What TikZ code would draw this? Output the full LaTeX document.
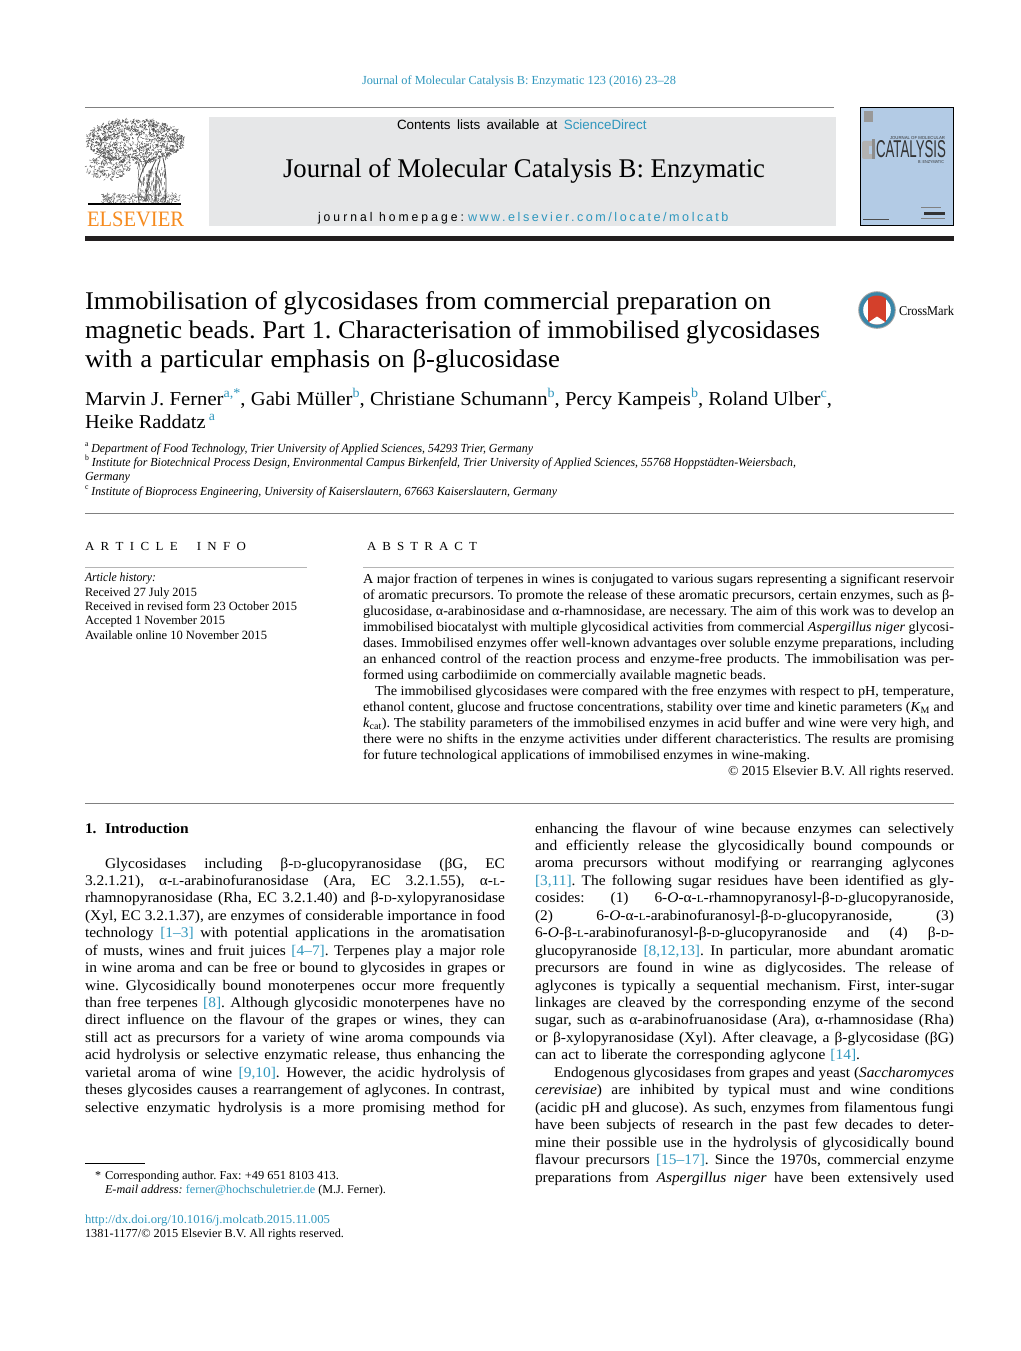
\documentclass[tikz,border=0pt]{standalone}
\usepackage{fontspec}
\usepackage{graphicx}
\setmainfont[FakeStretch=1.05]{Liberation Serif}
\newfontfamily\sansf{Liberation Sans}
\newfontfamily\sansls[LetterSpace=20]{Liberation Sans}
\newfontfamily\sanslsb[LetterSpace=25]{Liberation Sans}
\definecolor{linkc}{HTML}{2F97BE}
\definecolor{rulec}{HTML}{808080}
\definecolor{lightrule}{HTML}{B5B5B5}
\definecolor{boxgray}{HTML}{E6E7E8}
\definecolor{barc}{HTML}{231F20}
\definecolor{coverblue}{HTML}{B3CBE5}
\definecolor{elsorange}{HTML}{F68B1F}
\definecolor{cmred}{HTML}{D4402B}
\definecolor{cmring}{HTML}{3A86A8}
\newcounter{ln}
\newsavebox\linebox
\def\curfs{14}
% a line of text set to an exact width: word spaces stretch, or the line is narrowed if too long
\newcommand\fitline[2]{\sbox\linebox{#2}\ifdim\wd\linebox>#1pt\resizebox{#1pt}{\height}{\usebox\linebox}\else\makebox[#1pt][s]{#2}\fi}
\newcommand\J[4]{\stepcounter{ln}\node[txt] (t\arabic{ln}) at (#1,#2) {\frenchspacing\fontsize{\curfs}{\curfs}\selectfont\fitline{#3}{#4}};}
\newcommand\sD{\scalebox{.72}{D}}
\newcommand\sL{\scalebox{.72}{L}}
\newcommand\lk[1]{\textcolor{linkc}{#1}}
\newcommand\au[1]{\textcolor{linkc}{\raisebox{.4em}{\scalebox{.68}{#1}}}}
\newcommand\af[1]{\raisebox{.42em}{\scalebox{.65}{#1}}}
\tikzset{txt/.style={anchor=base west,inner sep=0pt,outer sep=0pt}}
\begin{document}
\begin{tikzpicture}[x=1pt,y=-1pt]
\useasboundingbox (0,0) rectangle (1020,1351);
\fill[white] (0,0) rectangle (1020,1351);
% header
\def\curfs{12.3}
\J{362}{85}{314}{\lk{Journal of Molecular Catalysis B: Enzymatic 123 (2016) 23–28}}
\fill[rulec] (85,107) rectangle (834,108);
\fill[boxgray] (209,117) rectangle (836,226);
\def\curfs{13.4}
\J{397}{130}{249.5}{\sansf Contents lists available at \lk{ScienceDirect}}
\def\curfs{27}
\J{283}{178}{482}{Journal of Molecular Catalysis B: Enzymatic}
\def\curfs{12.6}
\J{318}{222}{146}{\sanslsb journal homepage:}
\J{468}{222}{263}{\sansls\lk{www.elsevier.com/locate/molcatb}}
\fill[barc] (85,236) rectangle (954,241);
% Elsevier tree
\pgfmathsetseed{42}
\foreach \i in {1,...,1300}{
  \pgfmathsetmacro\ang{360*rnd}
  \pgfmathsetmacro\rr{pow(rnd,0.4)}
  \pgfmathsetmacro\xa{135+49*\rr*cos(\ang)}
  \pgfmathsetmacro\ya{141+22*\rr*sin(\ang)}
  \pgfmathsetmacro\ab{360*rnd}
  \draw[black!70,line width=.45pt] (\xa,\ya) -- ++(\ab:2);
}
\foreach \i in {1,...,200}{
  \pgfmathsetmacro\ang{360*rnd}
  \pgfmathsetmacro\rr{sqrt(rnd)}
  \pgfmathsetmacro\xa{108+22*\rr*cos(\ang)}
  \pgfmathsetmacro\ya{167+12*\rr*sin(\ang)}
  \pgfmathsetmacro\ab{360*rnd}
  \draw[black!65,line width=.45pt] (\xa,\ya) -- ++(\ab:2.2);
}
\foreach \i in {1,...,240}{
  \pgfmathsetmacro\xa{102+78*rnd}
  \pgfmathsetmacro\ya{194+9*rnd}
  \pgfmathsetmacro\ab{360*rnd}
  \draw[black!60,line width=.45pt] (\xa,\ya) -- ++(\ab:2);
}
\foreach \i in {1,...,170}{
  \pgfmathsetmacro\xa{138+28*rnd}
  \pgfmathsetmacro\ya{160+40*rnd}
  \draw[black!65,line width=.45pt] (\xa,\ya) -- ++(90+30*rnd-15:3);
}
\draw[black!70,line width=.8pt] (139,202) .. controls (136,185) and (140,172) .. (150,158);
\draw[black!70,line width=.8pt] (146,202) .. controls (146,188) and (148,175) .. (156,160);
\draw[black!70,line width=.8pt] (156,202) .. controls (156,190) and (154,175) .. (160,160);
\draw[black!70,line width=.8pt] (165,202) .. controls (167,185) and (166,170) .. (163,158);
\fill[black] (88,203) rectangle (181,205);
\def\curfs{22}
\J{87}{226}{97}{\textcolor{elsorange}{ELSEVIER}}
% cover
\draw[fill=coverblue,draw=black,line width=1pt] (860.5,107.5) rectangle (953.5,225.5);
\fill[black!40] (864,111) rectangle (873,122);
\fill[black!30,rounded corners=2pt] (862,141) rectangle (875,159);
\fill[coverblue] (869,146) rectangle (875,154);
\fill[black!45] (872,139) rectangle (874.5,159);
\node[txt] (covertitle) at (876,158) {\resizebox{70pt}{17pt}{\sansf\color{black!80}CATALYSIS}};
\node[txt] (covertop) at (890,140) {\resizebox{55pt}{3pt}{\sansf\color{black!80}JOURNAL OF MOLECULAR}};
\node[txt] (coversub) at (918,164) {\resizebox{26pt}{3pt}{\sansf\color{black!80}B: ENZYMATIC}};
\fill[black!70] (863,218.5) rectangle (889,219.5);
\fill[black!80] (924,212) rectangle (945,215);
\fill[black!50] (921,207) rectangle (941,208);
\fill[black!50] (921,218) rectangle (945,219);
% title
\def\curfs{25.5}
\J{85}{309.5}{686}{Immobilisation of glycosidases from commercial preparation on}
\J{85}{338.5}{735}{magnetic beads. Part 1. Characterisation of immobilised glycosidases}
\J{85}{367.5}{475}{with a particular emphasis on β-glucosidase}
% crossmark
\fill[black!35] (877,310) circle (18.8);
\fill[cmring] (877,310) circle (17.8);
\fill[white] (877,310) circle (13.8);
\begin{scope}
\clip (877,310) circle (14.5);
\fill[cmred] (868,294) rectangle (886,326);
\fill[white] (877,316.5) -- (886.5,323) -- (886.5,327) -- (867.5,327) -- (867.5,323) -- cycle;
\end{scope}
\def\curfs{13.5}
\J{899}{315}{55}{CrossMark}
% authors
\def\curfs{19.7}
\J{85}{405}{747}{Marvin J. Ferner\au{a,*}, Gabi Müller\au{b}, Christiane Schumann\au{b}, Percy Kampeis\au{b}, Roland Ulber\au{c},}
\J{85}{428}{130}{Heike Raddatz\,\au{a}}
% affiliations
\def\curfs{12.3}
\J{85}{452}{448}{\af{a} \itshape Department of Food Technology, Trier University of Applied Sciences, 54293 Trier, Germany}
\J{85}{466}{711}{\af{b} \itshape Institute for Biotechnical Process Design, Environmental Campus Birkenfeld, Trier University of Applied Sciences, 55768 Hoppstädten-Weiersbach,}
\J{85}{480}{45}{\itshape Germany}
\J{85}{495}{472}{\af{c} \itshape Institute of Bioprocess Engineering, University of Kaiserslautern, 67663 Kaiserslautern, Germany}
\fill[rulec] (85,513) rectangle (954,514);
% section headings
\def\curfs{12.3}
\J{85}{550}{161}{A R T I C L E \ \ I N F O}
\J{367}{550}{110}{A B S T R A C T}
\fill[lightrule] (85,566.5) rectangle (307,568.3);
\fill[lightrule] (363,566.5) rectangle (954,568.3);
% article history
\def\curfs{12.6}
\J{85}{581}{71}{\itshape Article history:}
\J{85}{596}{112}{Received 27 July 2015}
\J{85}{610}{212}{Received in revised form 23 October 2015}
\J{85}{624}{140}{Accepted 1 November 2015}
\J{85}{639}{182}{Available online 10 November 2015}
% abstract
\def\curfs{13.7}
\J{363}{583}{591}{A major fraction of terpenes in wines is conjugated to various sugars representing a significant reservoir}
\J{363}{599}{591}{of aromatic precursors. To promote the release of these aromatic precursors, certain enzymes, such as β-}
\J{363}{615}{591}{glucosidase, α-arabinosidase and α-rhamnosidase, are necessary. The aim of this work was to develop an}
\J{363}{631}{591}{immobilised biocatalyst with multiple glycosidical activities from commercial \textit{Aspergillus niger} glycosi-}
\J{363}{647}{591}{dases. Immobilised enzymes offer well-known advantages over soluble enzyme preparations, including}
\J{363}{663}{591}{an enhanced control of the reaction process and enzyme-free products. The immobilisation was per-}
\J{363}{679}{403}{formed using carbodiimide on commercially available magnetic beads.}
\J{375}{695}{579}{The immobilised glycosidases were compared with the free enzymes with respect to pH, temperature,}
\J{363}{711}{591}{ethanol content, glucose and fructose concentrations, stability over time and kinetic parameters (\textit{K}\textsubscript{M} and}
\J{363}{727}{591}{\textit{k}\textsubscript{cat}). The stability parameters of the immobilised enzymes in acid buffer and wine were very high, and}
\J{363}{743}{591}{there were no shifts in the enzyme activities under different characteristics. The results are promising}
\J{363}{759}{447}{for future technological applications of immobilised enzymes in wine-making.}
\J{728}{775}{226}{© 2015 Elsevier B.V. All rights reserved.}
\fill[rulec] (85,803) rectangle (954,804);
% left column
\def\curfs{14.7}
\J{85}{833}{12}{\textbf{1.}}
\J{105}{833}{86}{\textbf{Introduction}}
\J{105}{868}{400}{Glycosidases including β-\sD-glucopyranosidase (βG, EC}
\J{85}{885.4}{420}{3.2.1.21), α-\sL-arabinofuranosidase (Ara, EC 3.2.1.55), α-\sL-}
\J{85}{902.9}{420}{rhamnopyranosidase (Rha, EC 3.2.1.40) and β-\sD-xylopyranosidase}
\J{85}{920.3}{420}{(Xyl, EC 3.2.1.37), are enzymes of considerable importance in food}
\J{85}{937.7}{420}{technology \lk{[1–3]} with potential applications in the aromatisation}
\J{85}{955.2}{420}{of musts, wines and fruit juices \lk{[4–7]}. Terpenes play a major role}
\J{85}{972.6}{420}{in wine aroma and can be free or bound to glycosides in grapes or}
\J{85}{990}{420}{wine. Glycosidically bound monoterpenes occur more frequently}
\J{85}{1007.4}{420}{than free terpenes \lk{[8]}. Although glycosidic monoterpenes have no}
\J{85}{1024.9}{420}{direct influence on the flavour of the grapes or wines, they can}
\J{85}{1042.3}{420}{still act as precursors for a variety of wine aroma compounds via}
\J{85}{1059.7}{420}{acid hydrolysis or selective enzymatic release, thus enhancing the}
\J{85}{1077.2}{420}{varietal aroma of wine \lk{[9,10]}. However, the acidic hydrolysis of}
\J{85}{1094.6}{420}{theses glycosides causes a rearrangement of aglycones. In contrast,}
\J{85}{1112}{420}{selective enzymatic hydrolysis is a more promising method for}
% right column
\J{535}{833}{419}{enhancing the flavour of wine because enzymes can selectively}
\J{535}{850.4}{419}{and efficiently release the glycosidically bound compounds or}
\J{535}{867.9}{419}{aroma precursors without modifying or rearranging aglycones}
\J{535}{885.3}{419}{\lk{[3,11]}. The following sugar residues have been identified as gly-}
\J{535}{902.8}{419}{cosides: (1) 6-\textit{O}-α-\sL-rhamnopyranosyl-β-\sD-glucopyranoside,}
\J{535}{920.2}{419}{(2) 6-\textit{O}-α-\sL-arabinofuranosyl-β-\sD-glucopyranoside, (3)}
\J{535}{937.7}{419}{6-\textit{O}-β-\sL-arabinofuranosyl-β-\sD-glucopyranoside and (4) β-\sD-}
\J{535}{955.1}{419}{glucopyranoside \lk{[8,12,13]}. In particular, more abundant aromatic}
\J{535}{972.6}{419}{precursors are found in wine as diglycosides. The release of}
\J{535}{990}{419}{aglycones is typically a sequential mechanism. First, inter-sugar}
\J{535}{1007.5}{419}{linkages are cleaved by the corresponding enzyme of the second}
\J{535}{1024.9}{419}{sugar, such as α-arabinofruanosidase (Ara), α-rhamnosidase (Rha)}
\J{535}{1042.4}{419}{or β-xylopyranosidase (Xyl). After cleavage, a β-glycosidase (βG)}
\J{535}{1059.8}{325}{can act to liberate the corresponding aglycone \lk{[14]}.}
\J{554}{1077.3}{400}{Endogenous glycosidases from grapes and yeast (\textit{Saccharomyces}}
\J{535}{1094.7}{419}{\textit{cerevisiae}) are inhibited by typical must and wine conditions}
\J{535}{1112.2}{419}{(acidic pH and glucose). As such, enzymes from filamentous fungi}
\J{535}{1129.6}{419}{have been subjects of research in the past few decades to deter-}
\J{535}{1147.1}{419}{mine their possible use in the hydrolysis of glycosidically bound}
\J{535}{1164.5}{419}{flavour precursors \lk{[15–17]}. Since the 1970s, commercial enzyme}
\J{535}{1182}{419}{preparations from \textit{Aspergillus niger} have been extensively used}
% footnotes
\fill[black] (85,1162.7) rectangle (145,1163.6);
\def\curfs{12.2}
\J{95}{1179}{6}{*}
\J{105}{1179}{234}{Corresponding author. Fax: +49 651 8103 413.}
\J{105}{1193}{281}{\textit{E-mail address:} \lk{ferner@hochschuletrier.de} (M.J. Ferner).}
\J{85}{1223}{245}{\lk{http://dx.doi.org/10.1016/j.molcatb.2015.11.005}}
\J{85}{1237}{259}{1381-1177/© 2015 Elsevier B.V. All rights reserved.}
\end{tikzpicture}
\end{document}
